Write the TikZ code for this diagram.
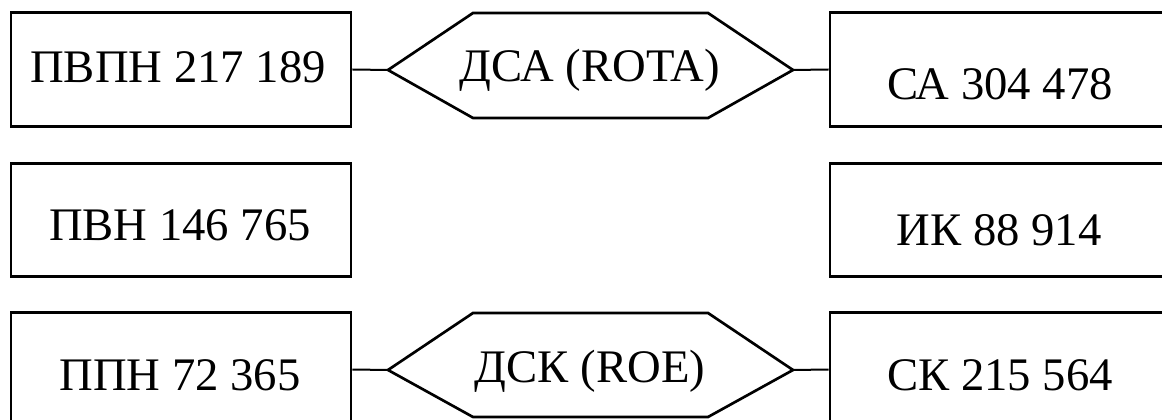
\documentclass[tikz,border=0pt]{standalone}
\usepackage{fontspec}
\setmainfont{Liberation Serif}
\begin{document}
\begin{tikzpicture}[x=0.75pt,y=-0.75pt,
  box/.style={draw,line width=2.2pt,minimum width=255pt,minimum height=85pt,inner sep=0pt},
  lbl/.style={anchor=base,inner sep=0pt,font=\fontsize{35pt}{40pt}\selectfont},
  hexline/.style={line width=2pt,line join=miter},
  conn/.style={line width=1.5pt}]
\useasboundingbox (0,0) rectangle (1162,420);
\clip (0,0) rectangle (1162,420);
% boxes
\node[box] (pvpn) at (181,69.5) {};
\node[box] (ca)   at (1000,69.5) {};
\node[box] (pvn)  at (181,220) {};
\node[box] (ik)   at (1000,220) {};
\node[box] (ppn)  at (181,369.5) {};
\node[box] (sk)   at (1000,369.5) {};
% labels
\node[lbl] (pvpnt) at (178,83) {ПВПН 217 189};
\node[lbl] (cat)   at (1000,100) {СА 304 478};
\node[lbl] (pvnt)  at (180,240) {ПВН 146 765};
\node[lbl] (ikt)   at (999,245) {ИК 88 914};
\node[lbl] (ppnt)  at (180,390) {ППН 72 365};
\node[lbl] (skt)   at (1000,390) {СК 215 564};
% hexagons
\coordinate (ha-l) at (388,70);
\coordinate (ha-r) at (793,70);
\draw[hexline] (ha-l) -- (473,13) -- (708,13) -- (ha-r) -- (708,118) -- (473,118) -- cycle;
\node[lbl] (dsa) at (590,82) {ДСА (ROTA)};
\coordinate (hk-l) at (388,370);
\coordinate (hk-r) at (793,370);
\draw[hexline] (hk-l) -- (473,313) -- (708,313) -- (hk-r) -- (708,417) -- (473,417) -- cycle;
\node[lbl] (dsk) at (590,382) {ДСК (ROE)};
% connectors
\draw[conn] (pvpn.east) -- (ha-l);
\draw[conn] (ha-r) -- (ca.west);
\draw[conn] (ppn.east) -- (hk-l);
\draw[conn] (hk-r) -- (sk.west);
\end{tikzpicture}
\end{document}
